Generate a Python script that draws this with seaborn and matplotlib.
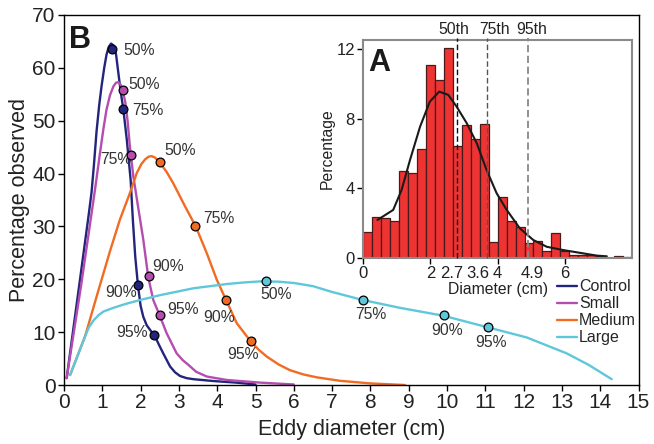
import numpy as np
import pandas as pd
import matplotlib
matplotlib.use("Agg")
import matplotlib.pyplot as plt
import matplotlib.transforms as mtransforms
import seaborn as sns

# ---------------- data ----------------
series_names = ["Control", "Small", "Medium", "Large"]
series_colors = ["#23247C", "#B44DAF", "#F26B22", "#5EC7DA"]

control_x = [0.07, 0.40, 0.65, 0.72, 0.78, 0.85, 0.92, 0.98, 1.05, 1.11, 1.17, 1.23, 1.30, 1.36,
             1.42, 1.48, 1.55, 1.64, 1.74, 1.80, 1.86, 1.93, 2.00, 2.07, 2.16, 2.25, 2.37, 2.48,
             2.59, 2.77, 2.90, 3.03, 3.20, 3.38, 3.90, 4.50, 5.00]
control_y = [1.3, 19.0, 32.5, 36.5, 41.5, 48.0, 53.0, 56.5, 60.0, 62.5, 64.0, 64.6, 64.2, 62.5,
             59.0, 55.5, 52.1, 46.4, 38.8, 31.0, 24.3, 18.9, 15.0, 12.9, 11.3, 10.4, 9.3, 7.6,
             6.0, 3.5, 2.4, 1.7, 1.3, 1.1, 0.75, 0.45, 0.1]

small_x = [0.07, 0.45, 0.81, 0.94, 1.03, 1.11, 1.20, 1.29, 1.36, 1.42, 1.48, 1.54, 1.60, 1.66,
           1.72, 1.81, 1.90, 2.07, 2.20, 2.33, 2.49, 2.68, 2.94, 3.10, 3.25, 3.45, 3.73, 4.25,
           5.12, 6.00]
small_y = [1.3, 19.0, 37.0, 43.9, 48.5, 52.1, 54.8, 56.5, 57.2, 57.3, 56.8, 55.5, 53.5, 50.0,
           45.1, 39.5, 35.3, 27.5, 20.4, 16.1, 13.3, 9.8, 6.0, 4.7, 3.8, 2.5, 1.6, 0.95,
           0.45, 0.1]

medium_x = [0.16, 0.55, 0.85, 1.20, 1.46, 1.72, 1.90, 2.02, 2.12, 2.21, 2.29, 2.38, 2.51, 2.68,
            2.85, 3.16, 3.44, 3.73, 3.99, 4.23, 4.51, 4.87, 5.08, 5.29, 5.60, 5.90, 6.25, 6.60,
            7.20, 8.00, 8.90]
medium_y = [1.9, 9.2, 16.7, 25.3, 31.3, 36.3, 40.1, 41.8, 42.7, 43.2, 43.3, 43.0, 42.0, 40.3,
            38.2, 33.8, 30.0, 24.9, 19.9, 16.1, 11.7, 8.3, 6.7, 5.4, 3.9, 2.8, 2.0, 1.45,
            0.8, 0.3, 0.0]

large_x = [0.16, 0.55, 0.65, 0.77, 0.90, 1.03, 1.25, 1.46, 1.64, 2.00, 2.51, 3.38, 4.25, 4.70,
           5.12, 5.60, 6.00, 6.50, 7.00, 7.79, 8.77, 9.91, 11.07, 12.08, 13.12, 13.70, 14.30]
large_y = [1.9, 9.2, 10.9, 12.2, 13.2, 13.9, 14.5, 15.0, 15.4, 16.1, 17.0, 18.3, 19.1, 19.4,
           19.6, 19.55, 19.3, 18.7, 17.6, 16.1, 14.6, 13.1, 10.9, 9.0, 6.0, 3.8, 1.1]

pct_labels = ["50%", "75%", "90%", "95%"]
control_pct_x = [1.25, 1.53, 1.94, 2.36]
control_pct_y = [63.6, 52.3, 18.9, 9.5]
small_pct_x = [1.53, 1.74, 2.21, 2.50]
small_pct_y = [55.8, 43.6, 20.6, 13.3]
medium_pct_x = [2.50, 3.43, 4.23, 4.88]
medium_pct_y = [42.1, 30.0, 16.1, 8.4]
large_pct_x = [5.27, 7.80, 9.92, 11.07]
large_pct_y = [19.6, 16.1, 13.2, 10.9]

main_xticks = list(range(0, 16))
main_yticks = [0, 10, 20, 30, 40, 50, 60, 70]

# inset histogram (percentage per bin, 30 bins from 0 to 8 cm)
hist_heights = [1.5, 2.36, 2.3, 2.1, 5.0, 4.9, 6.26, 11.1, 10.23, 12.06, 6.43, 7.62, 6.82, 7.68,
                0.88, 3.48, 2.13, 1.79, 0.83, 0.98, 0.39, 1.40, 0.39, 0.16, 0.16, 0.14, 0.10,
                0.0, 0.08, 0.05]
hist_range = (0.0, 8.0)

kde_x = [0.42, 0.89, 1.14, 1.39, 1.69, 1.98, 2.26, 2.53, 2.78, 3.08, 3.38, 3.67, 3.97, 4.27,
         4.66, 5.06, 5.46, 5.95, 6.95, 7.25]
kde_y = [2.17, 2.75, 3.9, 5.62, 7.54, 8.98, 9.56, 9.37, 8.69, 7.74, 6.58, 5.05, 3.71, 2.75,
         1.69, 1.02, 0.63, 0.44, 0.12, 0.08]

percentile_names = ["50th", "75th", "95th"]
percentile_lines = [2.79, 3.67, 4.9]
percentile_values = ["2.7", "3.6", "4.9"]
inset_xticks = [0, 2, 4, 6]
inset_yticks = [0, 4, 8, 12]

# ---------------- style ----------------
sns.set_style("ticks")
plt.rcParams["font.family"] = ["Liberation Sans", "DejaVu Sans"]
plt.rcParams["axes.linewidth"] = 1.0

W, H = 654, 444
fig = plt.figure(figsize=(W / 100, H / 100), dpi=100)
fig.patch.set_facecolor("white")

# main axes
ax = fig.add_axes([64 / W, 1 - 385 / H, (638.5 - 64) / W, (385 - 15) / H])

curves = [(control_x, control_y), (small_x, small_y), (medium_x, medium_y), (large_x, large_y)]
for name, col, (cx, cy) in zip(series_names, series_colors, curves):
    sns.lineplot(x=cx, y=cy, color=col, linewidth=1.7, label=name, ax=ax,
                 sort=False, estimator=None)
for ln in ax.get_lines():
    ln.set_solid_joinstyle("round")

pcts = [(control_pct_x, control_pct_y), (small_pct_x, small_pct_y),
        (medium_pct_x, medium_pct_y), (large_pct_x, large_pct_y)]
for col, (px, py) in zip(series_colors, pcts):
    sns.scatterplot(x=px, y=py, color=col, edgecolor="black", linewidth=0.9, s=40,
                    zorder=6, ax=ax, legend=False)

# label placement (offset pixels, ha)
label_layout = [
    [(11, -2, "left"), (10, -2, "left"), (-1, -7, "right"), (-7, 2, "right")],
    [(6, 6, "left"), (1, -5, "right"), (4, 10, "left"), (8, 5, "left")],
    [(5, 12, "left"), (8, 8, "left"), (-7, -18, "center"), (-8, -14, "center")],
    [(10, -13, "center"), (8, -15, "center"), (3, -15, "center"), (3.5, -15, "center")],
]
for (px, py), lay in zip(pcts, label_layout):
    for lab, x0, y0, (dx, dy, ha) in zip(pct_labels, px, py, lay):
        ax.annotate(lab, (x0, y0), xytext=(dx, dy), textcoords="offset pixels",
                    ha=ha, va="center", fontsize=11.3, color="#333333")

ax.set_xlim(0, 15)
ax.set_ylim(0, 70)
ax.set_xticks(main_xticks)
ax.set_yticks(main_yticks)
ax.tick_params(direction="out", length=4, width=1, labelsize=15, pad=2, colors="black",
               labelcolor="#222222")
for sp in ax.spines.values():
    sp.set_visible(True)
    sp.set_color("black")
    sp.set_linewidth(1.0)
ax.set_xlabel("Eddy diameter (cm)", fontsize=15.5, color="#222222", labelpad=5)
ax.set_ylabel("Percentage observed", fontsize=15.5, color="#222222", labelpad=2)
ax.text(0.008, 0.972, "B", transform=ax.transAxes, fontsize=22, fontweight="bold",
        ha="left", va="top", color="#1a1a1a")

ax.legend(loc="upper left", bbox_to_anchor=(0.8576, 0.286), frameon=False, fontsize=11.5,
          handlelength=1.25, handletextpad=0.15, labelspacing=0.13, borderpad=0,
          borderaxespad=0)

# inset axes
axin = fig.add_axes([363.3 / W, 1 - 257.7 / H, (632 - 363.3) / W, (257.7 - 40) / H])
n_bins = len(hist_heights)
bw = (hist_range[1] - hist_range[0]) / n_bins
centers = [hist_range[0] + bw * (i + 0.5) for i in range(n_bins)]
hist_df = pd.DataFrame({"diameter": centers, "pct": hist_heights})
sns.histplot(data=hist_df, x="diameter", weights="pct", binwidth=bw, binrange=hist_range,
             ax=axin, color="#EE3333", edgecolor="#4a1a1a", linewidth=0.9, alpha=1.0)
sns.lineplot(x=kde_x, y=kde_y, color="#1a1a1a", linewidth=1.5, ax=axin, sort=False,
             estimator=None)

line_styles = [("#111111", 1.0), ("#555555", 1.0), ("#888888", 1.3)]
for xv, (lc, lw) in zip(percentile_lines, line_styles):
    axin.axvline(xv, color=lc, linestyle=(0, (4, 2)), linewidth=lw, zorder=4,
                 ymin=0, ymax=1.01, clip_on=False)

blend = mtransforms.blended_transform_factory(axin.transData, axin.transAxes)
name_pos = [2.70, 3.92, 5.00]
for nm, xp in zip(percentile_names, name_pos):
    axin.text(xp, 1.05, nm, transform=blend, ha="center", va="center", fontsize=11.3,
              color="#222222")

val_pos = [2.64, 3.42, 5.02]
for v, xp in zip(percentile_values, val_pos):
    axin.text(xp, -0.036, v, transform=blend, ha="center", va="top", fontsize=12,
              color="#222222")

axin.set_xlim(0, 8)
axin.set_ylim(0, 12.53)
axin.set_xticks(inset_xticks)
axin.set_yticks(inset_yticks)
axin.set_xticklabels([str(t) for t in inset_xticks])
axin.tick_params(direction="out", length=4, width=1, labelsize=12, pad=2, colors="black",
                 labelcolor="#222222")
for sp in axin.spines.values():
    sp.set_visible(True)
    sp.set_color("#8a8a8a")
    sp.set_linewidth(1.5)
axin.set_xlabel("Diameter (cm)", fontsize=11.3, color="#222222", labelpad=1)
axin.set_ylabel("Percentage", fontsize=11.3, color="#222222", labelpad=1)
axin.text(0.02, 0.965, "A", transform=axin.transAxes, fontsize=22, fontweight="bold",
          ha="left", va="top", color="#1a1a1a")

fig.savefig("out.png", dpi=100, facecolor="white")
